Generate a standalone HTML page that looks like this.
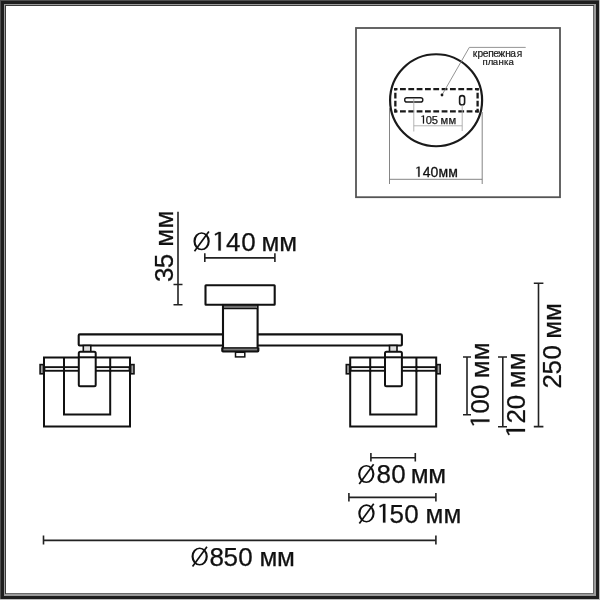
<!DOCTYPE html>
<html><head><meta charset="utf-8">
<style>
html,body{margin:0;padding:0;width:600px;height:600px;overflow:hidden;background:#fff}
svg{display:block;will-change:transform}
text{font-family:"Liberation Sans",sans-serif}
</style></head>
<body>
<svg width="600" height="600" viewBox="0 0 600 600">
<defs><polygon id="one" fill="#111" points="1.15,-18.7 1.15,0 -1.2,0 -1.2,-16.9 -4.2,-15.2 -4.9,-16.5 -0.9,-18.7"/></defs>
<!-- frame -->
<g shape-rendering="crispEdges">
<rect x="0" y="0" width="600" height="600" fill="#1e1e1e"/>
<rect x="0" y="0" width="600" height="1" fill="#505050"/>
<rect x="0" y="0" width="1" height="600" fill="#505050"/>
<rect x="0" y="599" width="600" height="1" fill="#bdbdbd"/>
<rect x="599" y="0" width="1" height="600" fill="#bdbdbd"/>
<rect x="4" y="4" width="592" height="592" fill="#9a9a9a"/>
<rect x="5" y="5" width="589" height="589" fill="#6a6a6a"/>
<rect x="5" y="5" width="589" height="1" fill="#3a3a3a"/>
<rect x="5" y="5" width="1" height="589" fill="#3a3a3a"/>
<rect x="6" y="6" width="587" height="587" fill="#fff"/>
</g>

<!-- inset box -->
<rect x="356" y="28" width="204" height="169.2" fill="none" stroke="#555" stroke-width="1.8"/>
<g fill="none">
  <circle cx="436.1" cy="100.25" r="46" stroke="#1a1a1a" stroke-width="2.2"/>
  <g stroke="#1a1a1a" stroke-width="2.3">
    <path d="M394.2 89.1H478.75 M394.2 111.3H478.75" stroke-dasharray="5.8 2.53" stroke-dashoffset="2.53"/>
    <path d="M395.35 87.9V112.45 M477.6 87.9V112.45" stroke-dasharray="5.8 2.2" stroke-dashoffset="3.15"/>
  </g>
  <rect x="404.7" y="97.7" width="18.1" height="4.3" rx="2.1" stroke="#1a1a1a" stroke-width="1.4"/>
  <rect x="459.6" y="95.6" width="5" height="9.4" rx="2.5" stroke="#1a1a1a" stroke-width="1.6"/>
  <polyline points="442,95 469.3,47.4 525.7,47.4" stroke="#888" stroke-width="0.9"/>
  <line x1="413.8" y1="99" x2="413.8" y2="131.5" stroke="#aaa" stroke-width="0.9"/>
  <line x1="462.2" y1="105" x2="462.2" y2="131" stroke="#aaa" stroke-width="0.9"/>
  <line x1="413.8" y1="125.8" x2="462.2" y2="125.8" stroke="#aaa" stroke-width="0.9"/>
  <line x1="389.5" y1="108" x2="389.5" y2="184" stroke="#777" stroke-width="0.9"/>
  <line x1="482.2" y1="112" x2="482.2" y2="184" stroke="#777" stroke-width="0.9"/>
  <line x1="389.5" y1="179.3" x2="482.2" y2="179.3" stroke="#777" stroke-width="0.9"/>
</g>
<circle cx="442" cy="95" r="1.4" fill="#1a1a1a"/>
<use href="#one" transform="translate(423.5,123.5) scale(0.43)" stroke="#1a1a1a" stroke-width="0.6"/>
<text y="123.5" font-size="11.2" fill="#1a1a1a" stroke="#1a1a1a" stroke-width="0.25"><tspan x="425.74">0</tspan><tspan x="431.65">5</tspan><tspan x="440.45">м</tspan><tspan x="448.5">м</tspan></text>
<text y="176.8" font-size="14" fill="#111" stroke="#111" stroke-width="0.3"><tspan x="422.79">40</tspan><tspan x="438.6">мм</tspan></text>
<use href="#one" transform="translate(418.9,176.8) scale(0.54)" stroke="#111" stroke-width="0.55"/>
<text y="57.4" font-size="10.2" fill="#1a1a1a" stroke="#1a1a1a" stroke-width="0.2"><tspan x="472.65">к</tspan><tspan x="477.55">р</tspan><tspan x="482.77">е</tspan><tspan x="488.14">п</tspan><tspan x="493.17">е</tspan><tspan x="498.34">ж</tspan><tspan x="505.18">н</tspan><tspan x="510.2">а</tspan><tspan x="516.85">я</tspan></text>
<text y="64.8" font-size="9.6" fill="#1a1a1a" stroke="#1a1a1a" stroke-width="0.2"><tspan x="482.6">п</tspan><tspan x="487.76">л</tspan><tspan x="492.73">а</tspan><tspan x="498.45">н</tspan><tspan x="503.95">к</tspan><tspan x="508.43">а</tspan></text>

<!-- lamp drawing -->
<g fill="#fff" stroke="#111" stroke-width="2.1">
  <!-- arm -->
  <rect x="78.7" y="334.4" width="323.2" height="11.1" rx="1"/>
  <!-- canopy -->
  <rect x="205.5" y="285.3" width="69.2" height="19.5" rx="0.5"/>
  <!-- body -->
  <rect x="223" y="305" width="34.6" height="43.2"/>
</g>
<rect x="224" y="305.8" width="32.6" height="2.4" fill="#6e6e6e"/>
<line x1="223" y1="308.7" x2="257.6" y2="308.7" stroke="#111" stroke-width="1.3"/>
<rect x="222.6" y="348.6" width="35.4" height="1.8" fill="#7a7a7a"/>
<path d="M222.3 347.5V350.8Q222.3 351.4 223 351.4H257.6Q258.3 351.4 258.3 350.8V347.5" fill="none" stroke="#111" stroke-width="2.2"/>
<rect x="235.5" y="352.3" width="9.3" height="4.6" fill="#fff" stroke="#111" stroke-width="1.5"/>

<!-- shades -->
<g id="shade" fill="none" stroke="#111" stroke-width="2">
  <rect x="83.3" y="345.5" width="7.5" height="6.3" fill="#e0e0e0" stroke-width="1.6"/>
  <rect x="44" y="357.5" width="86" height="69"/>
  <polyline points="64,357.5 64,414.4 110.2,414.4 110.2,357.5"/>
  <rect x="44.5" y="367.1" width="85" height="3.7" fill="#eee" stroke-width="1.8"/>
  <line x1="64" y1="366" x2="64" y2="372" />
  <line x1="110.2" y1="366" x2="110.2" y2="372" />
  <rect x="40.1" y="364.6" width="3.4" height="9.2" fill="#a0a0a0" stroke-width="1.6"/>
  <rect x="130.6" y="364.6" width="3.4" height="9.2" fill="#a0a0a0" stroke-width="1.6"/>
  <rect x="78.8" y="351.8" width="16.9" height="34.4" rx="1.5" fill="#fff"/>
  <line x1="78.8" y1="357.3" x2="95.7" y2="357.3"/>
</g>
<use href="#shade" transform="translate(306.2,0)"/>

<!-- dimension lines -->
<g stroke="#222" stroke-width="1.6" fill="none">
  <path d="M178 211.7V305 M173.5 284.5H182.5 M173.5 304.8H182.5"/>
  <path d="M204.8 257.9H274.9 M204.8 253.3V262 M274.9 253.3V262"/>
  <path d="M467 357V414.8 M463 357H471 M463 414.8H471"/>
  <path d="M502.8 357V426.7 M498 357H507 M498 426.7H507"/>
  <path d="M538.5 283.3V426.6 M533.8 283.3H543.4 M533.8 426.6H543.4"/>
  <path d="M370.9 457.7H415.3 M370.9 453V461.5 M415.3 453V461.5"/>
  <path d="M348.9 497.4H435.9 M348.9 493V501.5 M435.9 493V501.5"/>
  <path d="M43.5 540.4H435.9 M43.5 535.5V544.5 M435.9 535.5V544.5"/>
</g>

<g font-size="26" fill="#111" stroke="#111" stroke-width="0.25">
<text y="250.5"><tspan x="226.0">4</tspan><tspan x="241.32">0</tspan><tspan x="261.41">м</tspan><tspan x="279.21">м</tspan></text>
<text y="482.6"><tspan x="376.52">8</tspan><tspan x="391.32">0</tspan><tspan x="410.81">м</tspan><tspan x="428.36">м</tspan></text>
<text y="522.6"><tspan x="389.55">5</tspan><tspan x="404.17">0</tspan><tspan x="425.56">м</tspan><tspan x="443.51">м</tspan></text>
<text y="565.6"><tspan x="209.47">8</tspan><tspan x="223.45">5</tspan><tspan x="238.32">0</tspan><tspan x="259.51">м</tspan><tspan x="276.96">м</tspan></text>
<text transform="translate(173.2,0) rotate(-90)"><tspan x="-282.0" y="0">3</tspan><tspan x="-268.2" y="0">5</tspan><tspan x="-246.74" y="0">м</tspan><tspan x="-228.59" y="0">м</tspan></text>
<text transform="translate(489.4,0) rotate(-90)"><tspan x="-413.43" y="0">0</tspan><tspan x="-398.98" y="0">0</tspan><tspan x="-378.19" y="0">м</tspan><tspan x="-360.37" y="0">м</tspan></text>
<text transform="translate(525.0,0) rotate(-90)"><tspan x="-423.6" y="0">2</tspan><tspan x="-409.15" y="0">0</tspan><tspan x="-388.37" y="0">м</tspan><tspan x="-370.37" y="0">м</tspan></text>
<text transform="translate(560.6,0) rotate(-90)"><tspan x="-388.43" y="0">2</tspan><tspan x="-374.53" y="0">5</tspan><tspan x="-359.53" y="0">0</tspan><tspan x="-338.74" y="0">м</tspan><tspan x="-320.94" y="0">м</tspan></text>
<g transform="translate(201.6,241.25)"><path d="M-8.15 0A8.15 9.05 0 1 0 8.15 0A8.15 9.05 0 1 0 -8.15 0ZM-6.0 0A6.0 7.5 0 1 1 6.0 0A6.0 7.5 0 1 1 -6.0 0Z" fill="#111" stroke="none" fill-rule="evenodd"/><path d="M-7.1 10.1L7.3 -9.7" stroke="#111" stroke-width="1.7" fill="none"/></g>
<g transform="translate(366.3,474)"><path d="M-8.15 0A8.15 9.05 0 1 0 8.15 0A8.15 9.05 0 1 0 -8.15 0ZM-6.0 0A6.0 7.5 0 1 1 6.0 0A6.0 7.5 0 1 1 -6.0 0Z" fill="#111" stroke="none" fill-rule="evenodd"/><path d="M-7.1 10.1L7.3 -9.7" stroke="#111" stroke-width="1.7" fill="none"/></g>
<g transform="translate(366.45,513.4)"><path d="M-8.15 0A8.15 9.05 0 1 0 8.15 0A8.15 9.05 0 1 0 -8.15 0ZM-6.0 0A6.0 7.5 0 1 1 6.0 0A6.0 7.5 0 1 1 -6.0 0Z" fill="#111" stroke="none" fill-rule="evenodd"/><path d="M-7.1 10.1L7.3 -9.7" stroke="#111" stroke-width="1.7" fill="none"/></g>
<g transform="translate(199.65,556.5)"><path d="M-8.15 0A8.15 9.05 0 1 0 8.15 0A8.15 9.05 0 1 0 -8.15 0ZM-6.0 0A6.0 7.5 0 1 1 6.0 0A6.0 7.5 0 1 1 -6.0 0Z" fill="#111" stroke="none" fill-rule="evenodd"/><path d="M-7.1 10.1L7.3 -9.7" stroke="#111" stroke-width="1.7" fill="none"/></g>
<use href="#one" transform="translate(219.6,250.6)"/>
<use href="#one" transform="translate(384.2,522.6)"/>
<use href="#one" transform="translate(489.4,420.65) rotate(-90)"/>
<use href="#one" transform="translate(525.0,430.25) rotate(-90)"/>
</g>
</svg>
</body></html>
